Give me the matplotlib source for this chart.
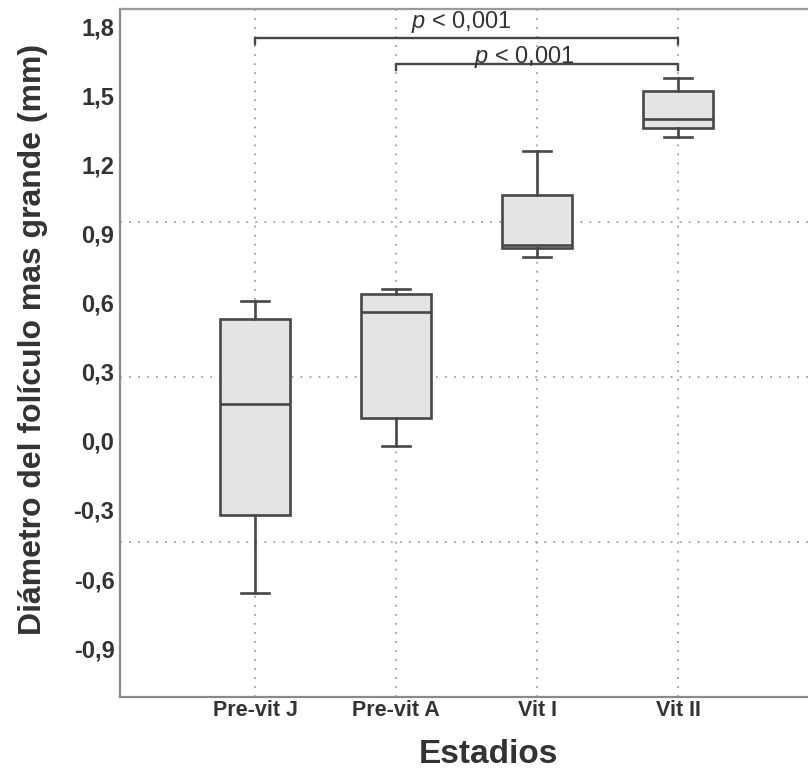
import matplotlib

matplotlib.use("Agg")
import matplotlib.pyplot as plt  # noqa: E402

plt.rcParams["font.family"] = ["Liberation Sans", "DejaVu Sans"]
plt.rcParams["mathtext.fontset"] = "custom"
plt.rcParams["mathtext.it"] = "Liberation Sans:italic"
plt.rcParams["mathtext.rm"] = "Liberation Sans"

# box statistics (mm)
stages = ["Pre-vit J", "Pre-vit A", "Vit I", "Vit II"]
whisker_low = [-0.66, -0.02, 0.80, 1.32]
q1 = [-0.32, 0.10, 0.84, 1.36]
median = [0.16, 0.56, 0.85, 1.40]
q3 = [0.53, 0.64, 1.07, 1.52]
whisker_high = [0.61, 0.66, 1.26, 1.58]

y_ticks = [1.8, 1.5, 1.2, 0.9, 0.6, 0.3, 0.0, -0.3, -0.6, -0.9]
grid_y = [0.95, 0.28, -0.44]

# significance brackets: (from stage, to stage, height, label)
brackets = [(0, 3, 1.752, "$p$ < 0,001"), (1, 3, 1.639, "$p$ < 0,001")]

LINE = "#474747"
GRID = "#a0a0a0"
SPINE = "#8a8a8a"
TEXT = "#333333"

fig = plt.figure(figsize=(8.08, 7.76), dpi=100)
ax = fig.add_axes([0.1485, 0.1018, 0.8515, 0.8866])

positions = list(range(1, len(stages) + 1))
stats = [
    {"whislo": lo, "q1": a, "med": m, "q3": b, "whishi": hi, "fliers": []}
    for lo, a, m, b, hi in zip(whisker_low, q1, median, q3, whisker_high)
]

grid_kw = dict(color=GRID, lw=1.3, ls=(0, (1, 4)), zorder=0)
for x in positions:
    ax.axvline(x, **grid_kw)
for y in grid_y:
    ax.axhline(y, **grid_kw)

line_kw = dict(color=LINE, lw=1.9)
ax.bxp(
    stats,
    positions=positions,
    widths=0.5,
    capwidths=0.2,
    patch_artist=True,
    showfliers=False,
    boxprops=dict(facecolor="#e4e4e4", edgecolor=LINE, lw=1.9),
    medianprops=line_kw,
    whiskerprops=line_kw,
    capprops=line_kw,
    zorder=2,
)

for i, j, h, label in brackets:
    x1, x2 = positions[i], positions[j]
    ax.plot([x1, x1, x2, x2], [h - 0.025, h, h, h - 0.025], color=LINE, lw=1.7,
            zorder=3)
# label placement relative to each bracket (x shift, height above line)
label_dx = [-0.04, -0.09]
label_dy = [0.044, 0.005]
for (i, j, h, label), dx, dy in zip(brackets, label_dx, label_dy):
    xm = (positions[i] + positions[j]) / 2 + dx
    ax.text(xm, h + dy, label, ha="center", va="baseline", fontsize=17,
            color=TEXT, zorder=4)

ax.set_xlim(0.043, 4.92)
ax.set_ylim(-1.113, 1.878)
ax.set_xticks(positions)
ax.set_xticklabels(stages, fontsize=15.5, fontweight="bold", color=TEXT)
ax.set_yticks(y_ticks)
ax.set_yticklabels([f"{v:.1f}".replace(".", ",") for v in y_ticks],
                   fontsize=17, fontweight="bold", color=TEXT)
ax.tick_params(axis="y", length=0, pad=4)
ax.tick_params(axis="x", length=0, pad=2)

for side in ["left", "bottom", "top"]:
    ax.spines[side].set_color(SPINE)
    ax.spines[side].set_linewidth(1.6)
ax.spines["top"].set_color("#9a9a9a")
ax.spines["right"].set_visible(False)

ax.set_ylabel("Diámetro del folículo mas grande (mm)", fontsize=23,
              fontweight="bold", color=TEXT)
ax.yaxis.set_label_coords(-0.104, 0.52)
fig.text(0.605, 0.008, "Estadios", fontsize=24, fontweight="bold",
         color=TEXT, ha="center", va="bottom")

fig.savefig("out.png", dpi=100)
plt.close(fig)
